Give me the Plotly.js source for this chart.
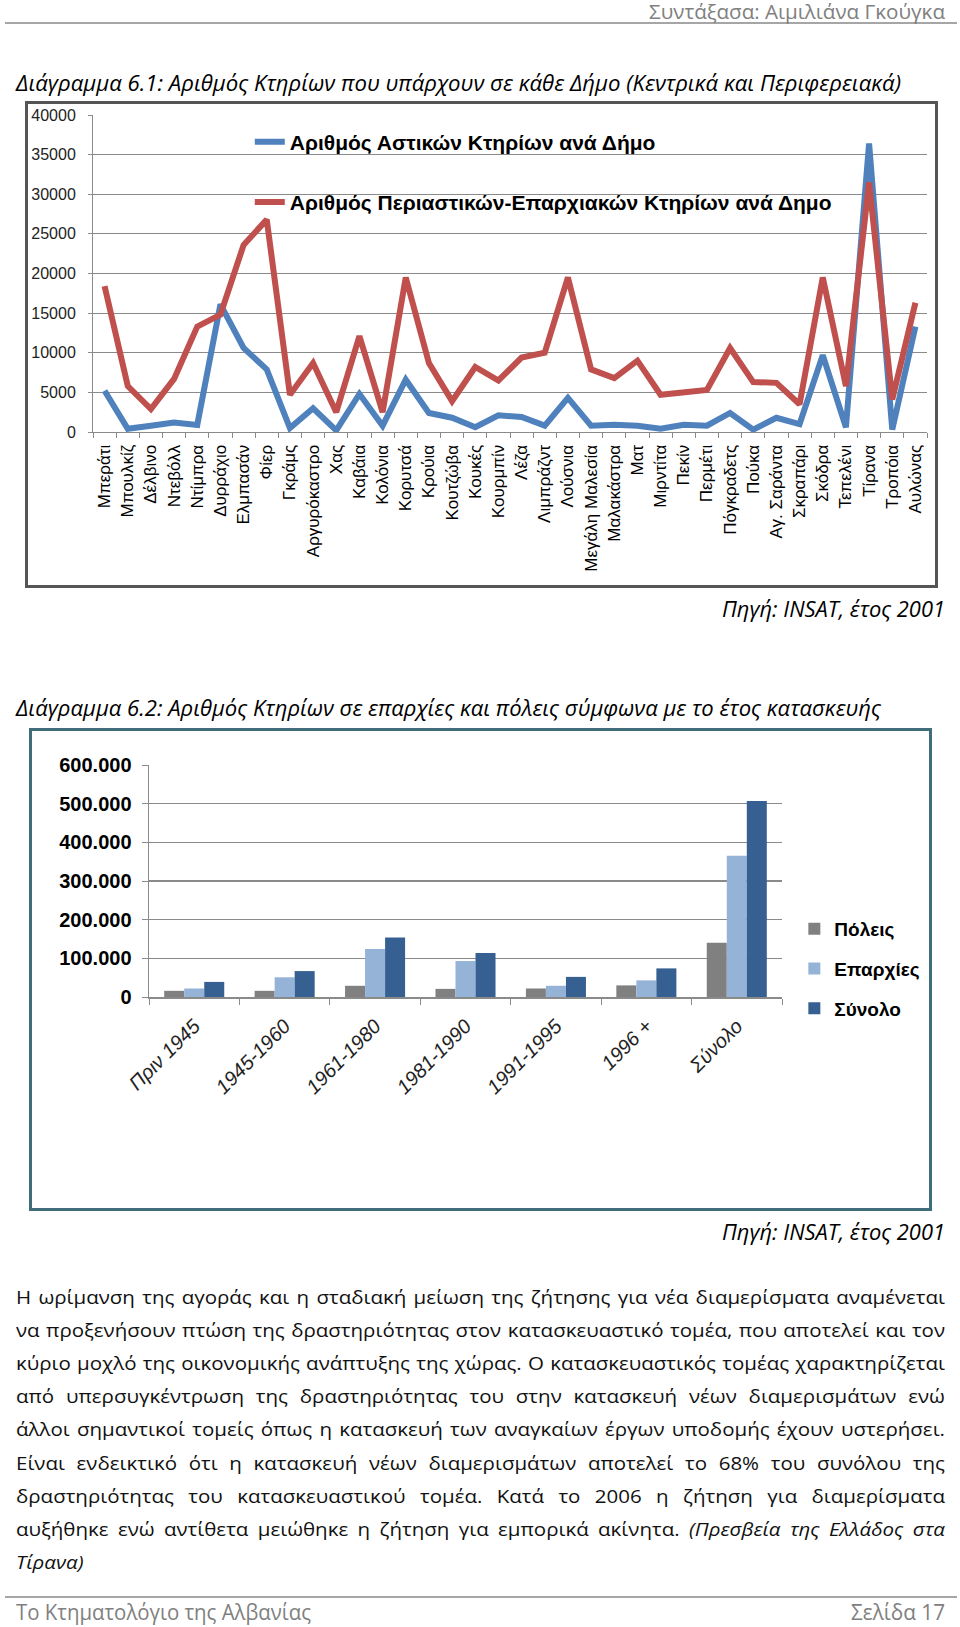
<!DOCTYPE html>
<html><head><meta charset="utf-8">
<script src="https://cdn.plot.ly/plotly-3.0.1.min.js"></script>
<style>
body{margin:0;width:960px;height:1627px;position:relative;background:#fff;overflow:hidden;font-family:'Open Sans','Noto Sans','Liberation Sans',sans-serif}
.t{position:absolute;white-space:nowrap;line-height:1}
.rule{position:absolute;height:2px;background:#a6a6a6}
.box{position:absolute;box-sizing:border-box}
.plot{position:absolute;left:0;top:0}
.pl{position:absolute;white-space:nowrap;line-height:1;text-align:justify;text-align-last:justify;color:#111}
</style>
</head><body>
<div class="rule" style="left:5px;top:22px;width:952px"></div>
<div class="rule" style="left:5px;top:1596px;width:952px"></div>
<div class="box" id="box1" style="left:25px;top:101px;width:913px;height:487px;border:3px solid #555"><div class="plot" id="c1"></div></div>
<div class="box" id="box2" style="left:29px;top:728px;width:903px;height:483px;border:3px solid #3f6e7a"><div class="plot" id="c2"></div></div>
<script>
// ---------- Chart 1 data ----------
const municipalities = ['Μπεράτι','Μπουλκίζ','Δέλβινο','Ντεβόλλ','Ντίμπρα','Δυρράχιο','Ελμπασάν','Φίερ','Γκράμς','Αργυρόκαστρο','Χας','Καβάια','Κολόνια','Κορυτσά','Κρούια','Κουτζώβα','Κουκές','Κουρμπίν','Λέζα','Λιμπράζντ','Λούσνια','Μεγάλη Μαλεσία','Μαλακάστρα','Ματ','Μιρντίτα','Πεκίν','Περμέτι','Πόγκραδετς','Πούκα','Αγ. Σαράντα','Σκραπάρι','Σκόδρα','Τεπελένι','Τίρανα','Τροπόια','Αυλώνας'];
const urbanBuildings = [5200,400,800,1200,900,16100,10600,7900,500,3000,200,4800,800,6600,2400,1800,600,2100,1900,800,4300,800,900,800,400,900,800,2400,300,1800,1000,9700,600,36400,300,13300];
const ruralBuildings = [18400,5800,2900,6700,13300,14800,23600,26800,4700,8700,2500,12100,2500,19500,8700,3900,8200,6500,9400,10000,19500,7900,6800,9000,4700,5000,5300,10600,6300,6200,3500,19500,5800,31500,4100,16300];
const chart1Names = ['Αριθμός Αστικών Κτηρίων ανά Δήμο','Αριθμός Περιαστικών-Επαρχιακών Κτηρίων ανά Δημο'];

// ---------- Chart 2 data ----------
const periods = ['Πριν 1945','1945-1960','1961-1980','1981-1990','1991-1995','1996 +','Σύνολο'];
const cities = [16000,16000,29000,21000,22000,30000,140000];
const provinces = [22000,51000,124000,93000,29000,43000,365000];
const totals = [39000,67000,154000,114000,52000,74000,507000];
const chart2Names = ['Πόλεις','Επαρχίες','Σύνολο'];

const F = "'Liberation Sans', Arial, sans-serif";
const grid = '#8a8a8a';

Plotly.newPlot('c1', [
  {x: municipalities, y: urbanBuildings, type:'scatter', mode:'lines', name: chart1Names[0], legendgroup:'a',
   line:{color:'#4f81bd', width:6}},
  {x: municipalities, y: ruralBuildings, type:'scatter', mode:'lines', name: chart1Names[1], legendgroup:'b',
   line:{color:'#c0504d', width:6}}
], {
  width:907, height:481,
  margin:{l:65, r:8, t:11, b:153, autoexpand:false},
  paper_bgcolor:'#fff', plot_bgcolor:'#fff',
  font:{family:F, color:'#000'},
  showlegend:true,
  legend:{x:0.188, xanchor:'left', y:0.82, yanchor:'middle', bgcolor:'rgba(0,0,0,0)',
          tracegroupgap:30, font:{size:21, weight:'bold', color:'#000'}},
  xaxis:{type:'category', range:[-0.5, municipalities.length - 0.5], tickson:'boundaries', ticks:'outside', ticklen:5, tickcolor:grid,
         showline:true, linecolor:grid, linewidth:1, showgrid:false, tickangle:-90,
         tickfont:{size:17, color:'#000'}, automargin:false, ticklabelstandoff:5},
  yaxis:{range:[0,40000], dtick:5000, tickformat:'d', ticks:'outside', ticklen:4, tickcolor:grid,
         showline:true, linecolor:grid, showgrid:true, gridcolor:grid, gridwidth:1, zeroline:false,
         tickfont:{size:16, color:'#222'}, automargin:false, ticklabelstandoff:9}
}, {staticPlot:true, displayModeBar:false});

Plotly.newPlot('c2', [
  {x: periods, y: cities, type:'bar', name: chart2Names[0], legendgroup:'a', marker:{color:'#808080'}},
  {x: periods, y: provinces, type:'bar', name: chart2Names[1], legendgroup:'b', marker:{color:'#95b3d7'}},
  {x: periods, y: totals, type:'bar', name: chart2Names[2], legendgroup:'c', marker:{color:'#376092'}}
], {
  width:897, height:477,
  margin:{l:117, r:147, t:34, b:211, autoexpand:false},
  separators:',.',
  paper_bgcolor:'#fff', plot_bgcolor:'#fff',
  font:{family:F, color:'#000'},
  barmode:'group', bargap:0.336, bargroupgap:0,
  showlegend:true,
  legend:{x:1.0195, xanchor:'left', y:0.121, yanchor:'middle', bgcolor:'rgba(0,0,0,0)',
          tracegroupgap:12, font:{size:19, weight:'bold', color:'#000'}},
  xaxis:{type:'category', tickson:'boundaries', ticks:'outside', ticklen:6, tickcolor:grid,
         showline:true, linecolor:grid, linewidth:1.5, showgrid:false, tickangle:-45,
         tickfont:{size:20, style:'italic', color:'#222'}, automargin:false, ticklabelstandoff:8},
  yaxis:{range:[0,600000], dtick:100000, tickformat:',d', ticks:'outside', ticklen:6, tickcolor:grid,
         showline:true, linecolor:grid, linewidth:1.5, showgrid:true, gridcolor:grid, gridwidth:1.5, zeroline:false,
         tickfont:{size:20, weight:'bold', color:'#000'}, automargin:false, ticklabelstandoff:6}
}, {staticPlot:true, displayModeBar:false});

// ---------- page text ----------
function placeText(html, o){
  const el = document.createElement('div');
  el.className = 't';
  el.innerHTML = html;
  el.style.fontSize = o.size + 'px';
  if (o.italic) el.style.fontStyle = 'italic';
  el.style.color = o.color || '#000';
  document.body.appendChild(el);
  const r = el.getBoundingClientRect();
  const s = o.w / r.width;
  el.style.transformOrigin = '0 50%';
  el.style.transform = 'scaleX(' + s + ')';
  const left = (o.right !== undefined) ? o.right - o.w : o.x;
  el.style.left = left + 'px';
  el.style.top = (o.cy - r.height/2) + 'px';
}
placeText('Συντάξασα: Αιμιλιάνα Γκούγκα', {right:945, w:296, cy:12, size:20, color:'#808080'});
placeText('Διάγραμμα 6.1: Αριθμός Κτηρίων που υπάρχουν σε κάθε Δήμο (Κεντρικά και Περιφερειακά)', {x:16, w:885, cy:82, size:22, italic:true});
placeText('Πηγή: INSAT, έτος 2001', {right:945, w:223, cy:608, size:22, italic:true});
placeText('Διάγραμμα 6.2: Αριθμός Κτηρίων σε επαρχίες και πόλεις σύμφωνα με το έτος κατασκευής', {x:16, w:865, cy:707, size:22, italic:true});
placeText('Πηγή: INSAT, έτος 2001', {right:945, w:223, cy:1231, size:22, italic:true});
placeText('Το Κτηματολόγιο της Αλβανίας', {x:16, w:295, cy:1611, size:22, color:'#808080'});
placeText('Σελίδα 17', {right:945, w:94, cy:1611, size:22, color:'#808080'});

const paraLines = [
 'Η ωρίμανση της αγοράς και η σταδιακή μείωση της ζήτησης για νέα διαμερίσματα αναμένεται',
 'να προξενήσουν πτώση της δραστηριότητας στον κατασκευαστικό τομέα, που αποτελεί και τον',
 'κύριο μοχλό της οικονομικής ανάπτυξης της χώρας. Ο κατασκευαστικός τομέας χαρακτηρίζεται',
 'από υπερσυγκέντρωση της δραστηριότητας του στην κατασκευή νέων διαμερισμάτων ενώ',
 'άλλοι σημαντικοί τομείς όπως η κατασκευή των αναγκαίων έργων υποδομής έχουν υστερήσει.',
 'Είναι ενδεικτικό ότι η κατασκευή νέων διαμερισμάτων αποτελεί το 68% του συνόλου της',
 'δραστηριότητας του κατασκευαστικού τομέα. Κατά το 2006 η ζήτηση για διαμερίσματα',
 'αυξήθηκε ενώ αντίθετα μειώθηκε η ζήτηση για εμπορικά ακίνητα. <i>(Πρεσβεία της Ελλάδος στα</i>',
 '<i>Τίρανα)</i>'
];
const P_SIZE = 19, P_X = 16, P_W = 929, P_Y0 = 1297, P_DY = 33.2;
// measure natural widths
const widths = paraLines.map(ln => {
  const probe = document.createElement('span');
  probe.className = 't'; probe.style.fontSize = P_SIZE + 'px'; probe.innerHTML = ln;
  document.body.appendChild(probe);
  const r = probe.getBoundingClientRect();
  probe.remove();
  return [r.width, r.height];
});
let sc = Infinity;
widths.slice(0, -1).forEach(([w]) => { sc = Math.min(sc, (P_W * 0.99) / w); });
paraLines.forEach((ln, i) => {
  const last = i === paraLines.length - 1;
  const el = document.createElement('div');
  el.className = 'pl'; el.innerHTML = ln; el.style.fontSize = P_SIZE + 'px';
  el.style.width = (P_W / sc) + 'px';
  el.style.transformOrigin = '0 50%';
  el.style.transform = 'scaleX(' + sc + ')';
  if (last) { el.style.textAlignLast = 'left'; el.style.textAlign = 'left'; }
  el.style.left = P_X + 'px';
  el.style.top = (P_Y0 + i * P_DY - widths[i][1]/2) + 'px';
  document.body.appendChild(el);
});
</script>
</body></html>
